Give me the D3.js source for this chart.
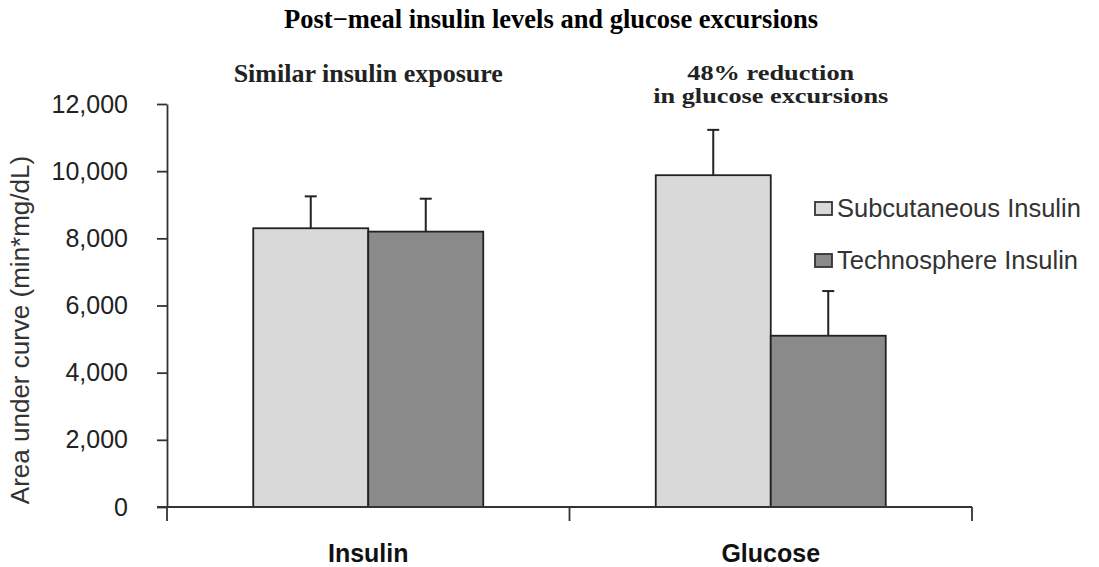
<!DOCTYPE html>
<html>
<head>
<meta charset="utf-8">
<script src="https://cdn.jsdelivr.net/npm/d3@7"></script>
<style>
  body { margin: 0; background: #fff; }
  svg { display: block; }
</style>
</head>
<body>
<svg></svg>
<script>
var width = 1099;
var height = 567;

var categories = ["Insulin", "Glucose"];
var seriesNames = ["Subcutaneous Insulin", "Technosphere Insulin"];
var subcutaneous = [8300, 9880];
var technosphere = [8200, 5100];
var subcutaneousErr = [950, 1350];
var technosphereErr = [980, 1330];
var yTicks = [0, 2000, 4000, 6000, 8000, 10000, 12000];
var colors = ["#d9d9d9", "#8a8a8a"];

var plotLeft = 167, plotRight = 972, plotTop = 104, plotBottom = 507;
var sans = "Liberation Sans, Arial, Helvetica, sans-serif";
var serif = "Liberation Serif, Times New Roman, serif";

var svg = d3.select("svg")
    .attr("width", width)
    .attr("height", height);

var xScale = d3.scaleBand()
    .domain(categories)
    .range([plotLeft, plotRight]);

var xInner = d3.scaleBand()
    .domain(seriesNames)
    .range([0, 230]);

var yScale = d3.scaleLinear()
    .domain([0, 12000])
    .range([plotBottom, plotTop]);

var data = [];
categories.forEach((c, i) => {
    data.push({cat: c, series: seriesNames[0], value: subcutaneous[i], err: subcutaneousErr[i], color: colors[0]});
    data.push({cat: c, series: seriesNames[1], value: technosphere[i], err: technosphereErr[i], color: colors[1]});
});

function barX(d) {
    return xScale(d.cat) + xScale.bandwidth() / 2 - 115 + xInner(d.series);
}

// error bars (behind bars)
var eb = svg.append("g")
    .attr("stroke", "#222")
    .attr("stroke-width", 2);
eb.selectAll("line.v")
  .data(data)
.enter()
.append("line")
    .attr("x1", d => barX(d) + xInner.bandwidth() / 2)
    .attr("x2", d => barX(d) + xInner.bandwidth() / 2)
    .attr("y1", d => yScale(d.value))
    .attr("y2", d => yScale(d.value + d.err));
eb.selectAll("line.c")
  .data(data)
.enter()
.append("line")
    .attr("x1", d => barX(d) + xInner.bandwidth() / 2 - 6)
    .attr("x2", d => barX(d) + xInner.bandwidth() / 2 + 6)
    .attr("y1", d => yScale(d.value + d.err))
    .attr("y2", d => yScale(d.value + d.err));

// bars
svg.append("g")
  .selectAll("rect")
  .data(data)
.enter()
.append("rect")
    .attr("x", d => barX(d))
    .attr("y", d => yScale(d.value))
    .attr("width", xInner.bandwidth())
    .attr("height", d => plotBottom - yScale(d.value))
    .attr("fill", d => d.color)
    .attr("stroke", "#222")
    .attr("stroke-width", 1.8);

// y axis
var yAxis = d3.axisLeft(yScale)
    .tickValues(yTicks)
    .tickFormat(d3.format(","))
    .tickSize(10)
    .tickPadding(29)
    .tickSizeOuter(0);
var gy = svg.append("g")
    .attr("transform", `translate(${plotLeft},0)`)
    .call(yAxis);
gy.selectAll("text")
    .attr("font-family", sans)
    .attr("font-size", 25)
    .attr("fill", "#222");
gy.selectAll("line, path").attr("stroke", "#333").attr("stroke-width", 1.8);

// x axis
var gx = svg.append("g")
    .attr("transform", `translate(0,${plotBottom})`);
gx.append("line")
    .attr("x1", plotLeft - 10).attr("x2", plotRight)
    .attr("y1", 0).attr("y2", 0)
    .attr("stroke", "#333").attr("stroke-width", 1.8);
gx.selectAll("line.tick")
  .data([plotLeft].concat(categories.map(c => xScale(c) + xScale.bandwidth())))
.enter()
.append("line")
    .attr("x1", d => d).attr("x2", d => d)
    .attr("y1", 0).attr("y2", 14)
    .attr("stroke", "#333").attr("stroke-width", 1.8);
gx.selectAll("text")
  .data(categories)
.enter()
.append("text")
    .attr("x", d => xScale(d) + xScale.bandwidth() / 2)
    .attr("y", 55)
    .attr("text-anchor", "middle")
    .attr("font-family", sans)
    .attr("font-weight", "bold")
    .attr("font-size", 25)
    .attr("fill", "#111")
    .text(d => d);

// y label
svg.append("text")
    .attr("transform", "rotate(-90)")
    .attr("x", -330)
    .attr("y", 29)
    .attr("text-anchor", "middle")
    .attr("font-family", sans)
    .attr("font-size", 26)
    .attr("fill", "#333")
    .text("Area under curve (min*mg/dL)");

// title
svg.append("text")
    .attr("x", 551)
    .attr("y", 28)
    .attr("text-anchor", "middle")
    .attr("font-family", serif)
    .attr("font-weight", "bold")
    .attr("font-size", 26.5)
    .text("Post\u2212meal insulin levels and glucose excursions");

// annotations
function note(txt, cat, y, size, len) {
    var t = svg.append("text")
        .attr("x", xScale(cat) + xScale.bandwidth() / 2)
        .attr("y", y)
        .attr("text-anchor", "middle")
        .attr("font-family", serif)
        .attr("font-weight", "bold")
        .attr("font-size", size)
        .attr("fill", "#222")
        .text(txt);
    if (len) t.attr("textLength", len).attr("lengthAdjust", "spacingAndGlyphs");
}
note("Similar insulin exposure", "Insulin", 82, 26);
note("48% reduction", "Glucose", 80, 21.5, 167);
note("in glucose excursions", "Glucose", 103, 21.5, 235);

// legend
var legend = svg.append("g")
  .selectAll("g")
  .data(seriesNames)
.enter()
.append("g")
    .attr("transform", (d, i) => `translate(815,${202 + i * 52})`);
legend.append("rect")
    .attr("width", 17).attr("height", 13)
    .attr("fill", (d, i) => colors[i])
    .attr("stroke", "#333")
    .attr("stroke-width", 1.8);
legend.append("text")
    .attr("x", 22)
    .attr("y", 15)
    .attr("font-family", sans)
    .attr("font-size", 25.5)
    .attr("fill", "#333")
    .text(d => d);
</script>
</body>
</html>
